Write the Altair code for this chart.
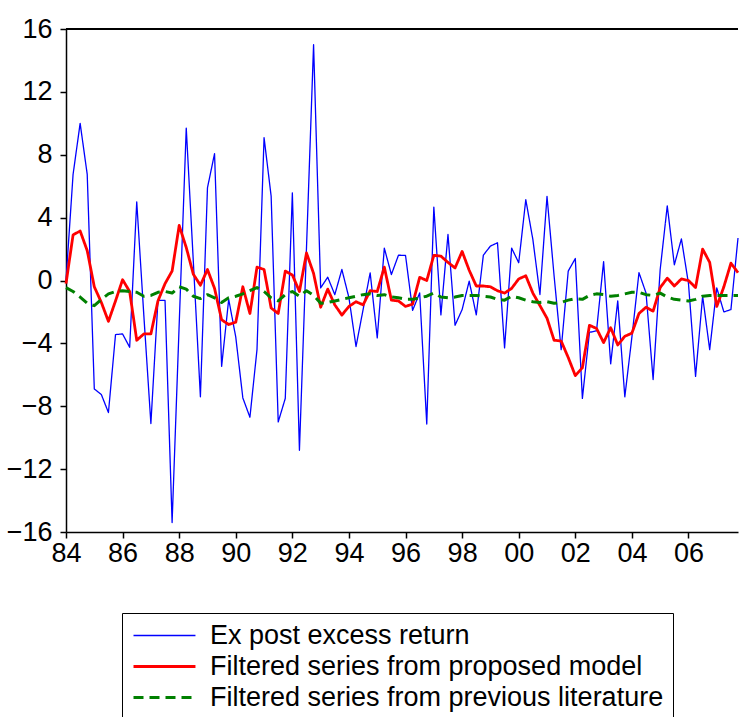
import altair as alt
import pandas as pd

# Quarterly sample, 1984Q1 .. 2007Q4
start_year = 1984
n_quarters = 96

series_names = [
    "Ex post excess return",
    "Filtered series from proposed model",
    "Filtered series from previous literature",
]

excess_return = [
    0.0, 6.75, 10.0, 6.75, -6.9, -7.26, -8.4, -3.44,
    -3.4, -4.25, 5.0, -2.2, -9.1, -1.27, -1.27, -15.4,
    -2.8, 9.7, 1.2, -7.4, 5.9, 8.07, -5.46, -1.2,
    -3.6, -7.47, -8.7, -4.4, 9.09, 5.37, -9.0, -7.5,
    5.58, -10.8, 2.1, 15.0, -0.47, 0.21, -0.9, 0.7,
    -1.1, -4.2, -1.85, 0.49, -3.65, 2.06, 0.38, 1.61,
    1.59, -1.9, -0.79, -9.13, 4.67, -2.19, 2.93, -2.85,
    -1.85, -0.04, -2.19, 1.61, 2.19, 2.4, -4.29, 2.06,
    1.13, 5.14, 2.61, -0.89, 5.35, 0.3, -4.4, 0.6,
    1.4, -7.5, -3.3, -3.2, 1.2, -5.3, -1.3, -7.4,
    -3.6, 0.5, -0.8, -6.3, 0.7, 4.75, 1.0, 2.65,
    -0.2, -6.1, -1.0, -4.4, -0.47, -2.0, -1.85, 2.7,
]

proposed_model = [
    -0.2, 2.9, 3.15, 1.9, -0.4, -1.4, -2.6, -1.3,
    0.05, -0.7, -3.8, -3.4, -3.4, -1.3, -0.2, 0.6,
    3.5, 2.1, 0.4, -0.3, 0.7, -0.5, -2.5, -2.8,
    -2.65, -0.4, -2.1, 0.85, 0.7, -1.75, -2.1, 0.6,
    0.35, -0.7, 1.75, 0.45, -1.7, -0.55, -1.55, -2.2,
    -1.65, -1.35, -1.55, -0.65, -0.7, 0.85, -1.25, -1.3,
    -1.65, -1.5, 0.2, 0.0, 1.6, 1.55, 1.15, 0.8,
    1.85, 0.65, -0.35, -0.35, -0.4, -0.65, -0.8, -0.5,
    0.1, 0.3, -0.8, -1.6, -2.4, -3.8, -3.85, -4.9,
    -6.05, -5.55, -2.85, -3.05, -3.95, -3.0, -4.1, -3.55,
    -3.35, -2.1, -1.7, -1.95, -0.45, 0.15, -0.35, 0.1,
    0.0, -0.45, 2.0, 1.15, -1.65, -0.4, 1.1, 0.5,
]

previous_literature = [
    -0.45, -0.7, -1.05, -1.45, -1.6, -1.2, -0.85, -0.7,
    -0.65, -0.7, -0.75, -1.0, -0.95, -0.75, -0.7, -0.8,
    -0.4, -0.55, -1.0, -1.15, -0.9, -1.1, -1.4, -1.1,
    -1.0, -0.85, -0.65, -0.45, -0.7, -1.1, -1.3, -0.9,
    -0.7, -1.0, -0.65, -0.95, -1.45, -1.4, -1.3, -1.2,
    -1.1, -1.0, -0.9, -0.85, -0.95, -0.9, -1.05, -1.1,
    -1.2, -1.2, -1.1, -1.0, -0.8, -1.05, -1.1, -1.05,
    -0.95, -0.95, -0.95, -1.0, -1.05, -1.2, -1.25, -1.0,
    -1.1, -1.25, -1.35, -1.4, -1.35, -1.45, -1.4, -1.25,
    -1.15, -1.2, -0.95, -0.85, -0.9, -1.0, -0.95, -0.85,
    -0.75, -0.75, -0.9, -0.95, -0.8, -1.05, -1.2, -1.25,
    -1.3, -1.2, -1.0, -0.95, -0.95, -0.95, -0.95, -0.95,
]

y_ticks = [-16, -12, -8, -4, 0, 4, 8, 12, 16]
year_ticks = list(range(1984, 2008))

colors = ["#0000FF", "#FF0000", "#008000"]
widths = [1.3, 2.8, 3.0]
dashes = [[1, 0], [1, 0], [10, 6]]

FONT = "Liberation Sans"
FONT_SIZE = 27

time = [start_year + q / 4 for q in range(n_quarters)]
frames = []
for name, vals in zip(series_names, [excess_return, proposed_model, previous_literature]):
    frames.append(pd.DataFrame({"t": time, "value": vals, "series": name}))
df = pd.concat(frames, ignore_index=True)

# boxed legend below the plot; the line sample is drawn as a long stroke
legend = alt.Legend(
    title=None,
    orient="none",
    legendX=56,
    legendY=584,
    direction="vertical",
    symbolType="M-1.42,0H6.58",
    symbolSize=240,
    padding=9,
    strokeColor="black",
    fillColor="white",
    labelFont=FONT,
    labelFontSize=FONT_SIZE,
    labelColor="black",
    labelLimit=800,
    labelOffset=52,
    rowPadding=3,
)

x_enc = alt.X(
    "t:Q",
    scale=alt.Scale(domain=[1984, 2007.75], nice=False, zero=False),
    axis=alt.Axis(
        title=None,
        values=year_ticks,
        labelExpr="datum.value % 2 == 0 ? substring(toString(datum.value), 2, 4) : ''",
        labelOverlap=False,
        labelFlush=False,
        grid=False,
        tickSize=6,
        tickColor="black",
        tickWidth=1.5,
        domainColor="black",
        domainWidth=1.5,
        labelPadding=2,
        labelFont=FONT,
        labelFontSize=FONT_SIZE,
        labelColor="black",
    ),
)

y_enc = alt.Y(
    "value:Q",
    scale=alt.Scale(domain=[-16, 16], nice=False),
    axis=alt.Axis(
        title=None,
        values=y_ticks,
        labelFlush=False,
        labelOverlap=False,
        grid=False,
        tickSize=6,
        tickColor="black",
        tickWidth=1.5,
        domainColor="black",
        domainWidth=1.5,
        labelPadding=8,
        labelFont=FONT,
        labelFontSize=FONT_SIZE,
        labelColor="black",
    ),
)

base = alt.Chart(df).mark_line(strokeJoin="round").encode(
    x=x_enc,
    y=y_enc,
    color=alt.Color("series:N", scale=alt.Scale(domain=series_names, range=colors), legend=legend, sort=series_names),
    strokeDash=alt.StrokeDash("series:N", scale=alt.Scale(domain=series_names, range=dashes), legend=legend, sort=series_names),
    strokeWidth=alt.StrokeWidth("series:N", scale=alt.Scale(type="ordinal", domain=series_names, range=widths), legend=legend, sort=series_names),
)

layers = [base.transform_filter(alt.datum.series == name) for name in series_names]

# top frame line of the plot area
top_frame = alt.Chart(pd.DataFrame({"y": [16], "x0": [1984], "x1": [2007.75]})).mark_rule(
    color="black", strokeWidth=2
).encode(
    y=alt.Y("y:Q"),
    x=alt.X("x0:Q"),
    x2="x1:Q",
)

chart = alt.layer(*layers, top_frame).properties(
    width=672,
    height=503,
    autosize=alt.AutoSizeParams(type="none"),
    padding={"left": 66, "top": 29, "right": 1, "bottom": 185},
    background="white",
).configure_view(strokeWidth=0)

chart.save("out.html", embed_options={"renderer": "svg", "actions": False})
